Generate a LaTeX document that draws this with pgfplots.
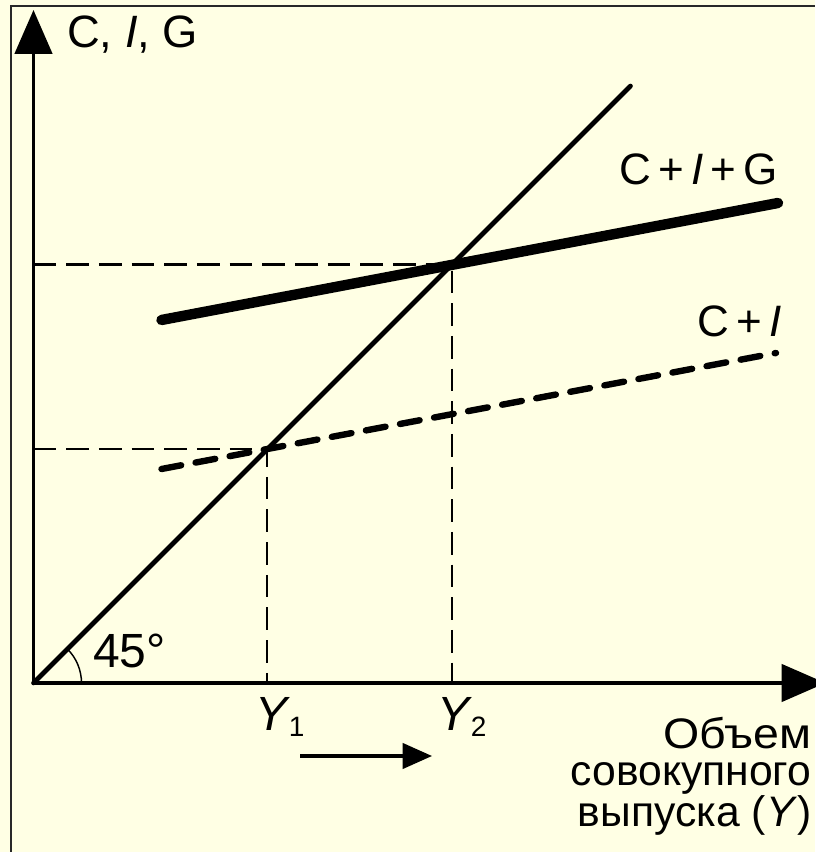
\documentclass[border=0pt]{standalone}
\usepackage{pgfplots}
\pgfplotsset{compat=1.18}
\usepackage{fontspec}
\setmainfont{Liberation Sans}
\usetikzlibrary{arrows.meta}
\definecolor{paper}{RGB}{255,255,228}
\definecolor{frame}{RGB}{40,40,40}

% 1 unit = 1 px of the reference; origin at the axes' corner
\newcommand{\lbl}[1]{\fontsize{#1}{#1}\selectfont}

\begin{document}
\begin{tikzpicture}
\begin{axis}[
    x=0.75pt, y=0.75pt,
    xmin=-33.5, xmax=781.5,
    ymin=-169, ymax=683,
    hide axis, clip=false,
]
% background and frame
\fill[paper] (axis cs:-33.5,-169) rectangle (axis cs:781.5,683);
\draw[frame, line width=1.5pt] (axis cs:-22.5,-169) -- (axis cs:-22.5,677) -- (axis cs:781.5,677);

% axes
\draw[line width=2.8pt, -{Triangle[length=33pt,width=28pt]}] (axis cs:0,0) -- (axis cs:0,673);
\draw[line width=2.8pt, -{Triangle[length=33pt,width=28pt]}] (axis cs:0,0) -- (axis cs:792,0);

% guide lines
\addplot[black, line width=1.9pt, dash pattern=on 17pt off 7.5pt] coordinates {(0,418.5) (418.5,418.5) (418.5,0)};
\addplot[black, line width=1.9pt, dash pattern=on 17pt off 7.5pt] coordinates {(0,234) (233.5,234) (233.5,0)};

% 45 degree line
\addplot[black, line width=3.5pt, line cap=round] coordinates {(0,0) (597,597)};

% C+I (dashed)
\addplot[black, line width=4.8pt, line cap=round, dash pattern=on 15pt off 11pt] coordinates {(128,214) (742.5,330)};

% C+I+G (thick)
\addplot[black, line width=7.8pt, line cap=round] coordinates {(128,363) (744.5,480)};

% 45 degree arc
\draw[line width=1.1pt] (axis cs:48,0) arc[start angle=0, end angle=45, radius=36pt];

% shift arrow
\draw[line width=2.4pt, -{Triangle[length=22pt,width=19pt]}] (axis cs:266.5,-73) -- (axis cs:398.5,-73);

% labels
\node[anchor=base west, inner sep=0] at (axis cs:33.5,635) {\lbl{34pt}C, \textit{I}, G};
\node[anchor=base west, inner sep=0] at (axis cs:585.5,498) {\lbl{33pt}C\,+\,\textit{I}\,+\,G};
\node[anchor=base west, inner sep=0] at (axis cs:663.5,346) {\lbl{33pt}C\,+\,\textit{I}};
\node[anchor=base west, inner sep=0] at (axis cs:59.5,15) {\lbl{36pt}45°};
\node[anchor=base west, inner sep=0] at (axis cs:221.5,-48) {\lbl{36pt}\textit{Y}\kern-1pt\raisebox{-4pt}{\lbl{21pt}1}};
\node[anchor=base west, inner sep=0] at (axis cs:403.5,-48) {\lbl{36pt}\textit{Y}\kern-1pt\raisebox{-4pt}{\lbl{21pt}2}};
\node[anchor=base east, inner sep=0, align=right, font=\fontsize{32pt}{27.8pt}\selectfont]
  at (axis cs:778,-144) {\scalebox{1.09}[1]{Объем}\\совокупного\\выпуска (\textit{Y})};
\end{axis}
\pgfresetboundingbox
\useasboundingbox (current axis.south west) rectangle (current axis.north east);
\end{tikzpicture}
\end{document}
